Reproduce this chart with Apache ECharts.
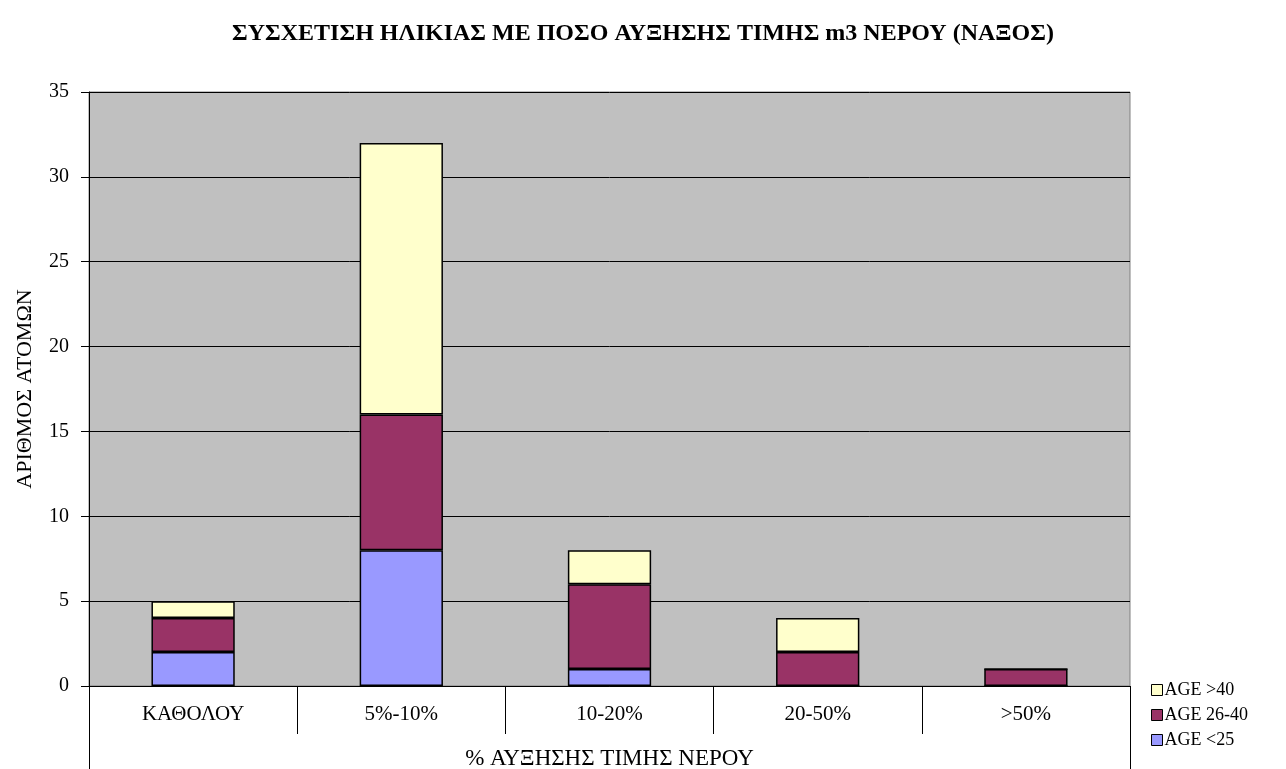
<!DOCTYPE html>
<html lang="el">
<head>
  <meta charset="UTF-8">
  <title>ΣΥΣΧΕΤΙΣΗ ΗΛΙΚΙΑΣ</title>
  <script src="https://cdn.jsdelivr.net/npm/echarts@6/dist/echarts.min.js"></script>
  <style>
    * { margin: 0; padding: 0; }
    body { background: #ffffff; }
    #chart { width: 1286px; height: 769px; }
  </style>
</head>
<body>
  <div id="chart"></div>
  <script>
    // categories and values
    const categories = ['ΚΑΘΟΛΟΥ', '5%-10%', '10-20%', '20-50%', '>50%'];
    const ageUnder25 = [2, 8, 1, 0, 0];
    const age26to40 = [2, 8, 5, 2, 1];
    const ageOver40 = [1, 16, 2, 2, 0];
    const yTicks = { min: 0, max: 35, interval: 5 };

    const font = "'Liberation Serif', 'Times New Roman', serif";
    const gridLeft = 89, gridRight = 156, gridTop = 92, gridBottom = 83;

    var myChart = echarts.init(document.getElementById('chart'));

    function barSeries(name, data, color) {
      return {
        name: name,
        type: 'bar',
        stack: 'total',
        barWidth: '40%',
        itemStyle: { color: color, borderColor: '#000', borderWidth: 1.5 },
        data: data
      };
    }

    var option = {
      animation: false,
      textStyle: { fontFamily: font, color: '#000' },
      title: {
        text: 'ΣΥΣΧΕΤΙΣΗ ΗΛΙΚΙΑΣ ΜΕ ΠΟΣΟ ΑΥΞΗΣΗΣ ΤΙΜΗΣ m3 ΝΕΡΟΥ (ΝΑΞΟΣ)',
        left: 'center',
        top: 17,
        textStyle: { fontFamily: font, fontSize: 24, fontWeight: 'bold', color: '#000' }
      },
      legend: {
        orient: 'vertical',
        left: 1146,
        top: 676,
        itemWidth: 11,
        itemHeight: 11,
        itemGap: 7,
        icon: 'rect',
        data: ['AGE >40', 'AGE 26-40', 'AGE <25'],
        textStyle: { fontFamily: font, fontSize: 18, color: '#000', padding: [0, 0, 0, -3] },
        itemStyle: { borderColor: '#000', borderWidth: 1 }
      },
      grid: {
        left: gridLeft, right: gridRight, top: gridTop, bottom: gridBottom,
        outerBoundsMode: 'none',
        containLabel: false,
        show: true,
        backgroundColor: '#c0c0c0',
        borderColor: '#808080',
        borderWidth: 1
      },
      xAxis: {
        type: 'category',
        data: categories,
        name: '% ΑΥΞΗΣΗΣ ΤΙΜΗΣ ΝΕΡΟΥ',
        nameLocation: 'middle',
        nameGap: 61,
        nameTextStyle: { fontFamily: font, fontSize: 23, color: '#000' },
        axisLine: { lineStyle: { color: '#000', width: 1 } },
        axisTick: { show: true, interval: 0, alignWithLabel: false, length: 48, lineStyle: { color: '#000' } },
        axisLabel: { fontFamily: font, fontSize: 21, color: '#000', margin: 18 }
      },
      yAxis: {
        type: 'value',
        min: yTicks.min,
        max: yTicks.max,
        interval: yTicks.interval,
        name: 'ΑΡΙΘΜΟΣ ΑΤΟΜΩΝ',
        nameLocation: 'middle',
        nameGap: 53,
        nameTextStyle: { fontFamily: font, fontSize: 22, color: '#000' },
        axisLine: { show: true, lineStyle: { color: '#000', width: 1 } },
        axisTick: { show: true, length: 8, lineStyle: { color: '#000' } },
        axisLabel: { fontFamily: font, fontSize: 20, color: '#000', margin: 20 },
        splitLine: { lineStyle: { color: '#000', width: 1 } }
      },
      // outer frame lines below the category labels
      graphic: [
        { type: 'line', shape: { x1: gridLeft + 0.5, y1: 769 - gridBottom, x2: gridLeft + 0.5, y2: 769 }, style: { stroke: '#000', lineWidth: 1 } },
        { type: 'line', shape: { x1: 1286 - gridRight + 0.5, y1: 769 - gridBottom, x2: 1286 - gridRight + 0.5, y2: 769 }, style: { stroke: '#000', lineWidth: 1 } }
      ],
      series: [
        barSeries('AGE <25', ageUnder25, '#9999ff'),
        barSeries('AGE 26-40', age26to40, '#993366'),
        barSeries('AGE >40', ageOver40, '#ffffcc')
      ]
    };
    myChart.setOption(option);
  </script>
</body>
</html>
